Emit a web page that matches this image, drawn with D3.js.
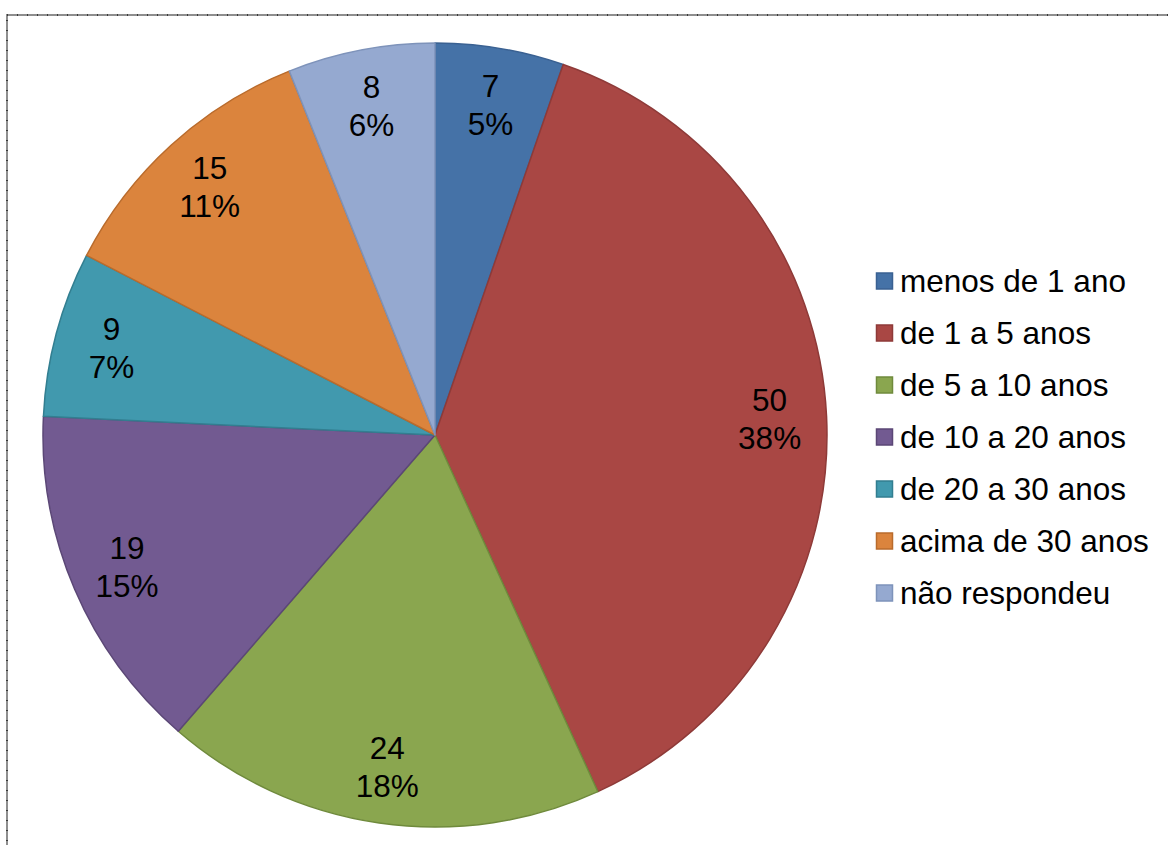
<!DOCTYPE html>
<html>
<head>
<meta charset="utf-8">
<script src="https://cdn.jsdelivr.net/npm/d3@7"></script>
<style>
  html, body { margin: 0; padding: 0; background: #fff; }
  svg { display: block; }
</style>
</head>
<body>
<svg id="chart" width="1168" height="845"></svg>
<script>
// Tempo de atuação dos respondentes
const categories = ["menos de 1 ano", "de 1 a 5 anos", "de 5 a 10 anos", "de 10 a 20 anos", "de 20 a 30 anos", "acima de 30 anos", "não respondeu"];
const values = [7, 50, 24, 19, 9, 15, 8];
const percentLabels = ["5%", "38%", "18%", "15%", "7%", "11%", "6%"];
const fills = ["#4572A7", "#A94744", "#8AA64F", "#725A91", "#4199AE", "#DB843D", "#95A9D0"];
const strokes = ["#3A6192", "#8E3A38", "#6F8A3C", "#5B4776", "#327E90", "#B96B2C", "#7E93BA"];

const svg = d3.select("#chart");
const W = 1168, H = 845;
const FONT = "Liberation Sans, Arial, sans-serif";
const FS = 31.5;

// chart frame: gray line with small dark dashes
svg.append("rect").attr("x", 7).attr("y", 15).attr("width", W).attr("height", H)
  .attr("fill", "none").attr("stroke", "#8f8f8f").attr("stroke-width", 2);
svg.append("rect").attr("x", 7).attr("y", 15).attr("width", W).attr("height", H)
  .attr("fill", "none").attr("stroke", "#3a3a3a").attr("stroke-width", 2)
  .attr("stroke-dasharray", "1,9");

const cx = 435, cy = 435, R = 392, labelR = 335;
const data = categories.map((c, i) => ({ cat: c, value: values[i], pct: percentLabels[i], i }));

const pie = d3.pie().sort(null).value(d => d.value);
const arc = d3.arc().innerRadius(0).outerRadius(R);
const labelArc = d3.arc().innerRadius(labelR).outerRadius(labelR);
const arcs = pie(data);

const g = svg.append("g").attr("transform", `translate(${cx},${cy})`);
g.selectAll("path.slice").data(arcs).join("path")
  .attr("class", "slice")
  .attr("d", arc)
  .attr("fill", d => fills[d.data.i])
  .attr("stroke", d => strokes[d.data.i])
  .attr("stroke-width", 1.5)
  .attr("stroke-linejoin", "round");

const labels = g.selectAll("text.lbl").data(arcs).join("text")
  .attr("class", "lbl")
  .attr("transform", d => `translate(${labelArc.centroid(d)})`)
  .attr("text-anchor", "middle")
  .attr("font-family", FONT)
  .attr("font-size", FS)
  .attr("fill", "#000");
labels.append("tspan").attr("x", 0).attr("y", -19).attr("dy", "0.35em").text(d => d.data.value);
labels.append("tspan").attr("x", 0).attr("y", 19).attr("dy", "0.35em").text(d => d.data.pct);

// legend
const lg = svg.append("g").attr("transform", "translate(876,281)");
const rows = lg.selectAll("g").data(data).join("g")
  .attr("transform", (d, i) => `translate(0,${i * 52})`);
rows.append("rect")
  .attr("x", 0.5).attr("y", -8).attr("width", 16).attr("height", 16)
  .attr("fill", d => fills[d.i])
  .attr("stroke", d => strokes[d.i]).attr("stroke-width", 1.5);
rows.append("text")
  .attr("x", 24).attr("y", 0).attr("dy", "0.35em")
  .attr("font-family", FONT)
  .attr("font-size", FS)
  .attr("fill", "#000")
  .text(d => d.cat);
</script>
</body>
</html>
